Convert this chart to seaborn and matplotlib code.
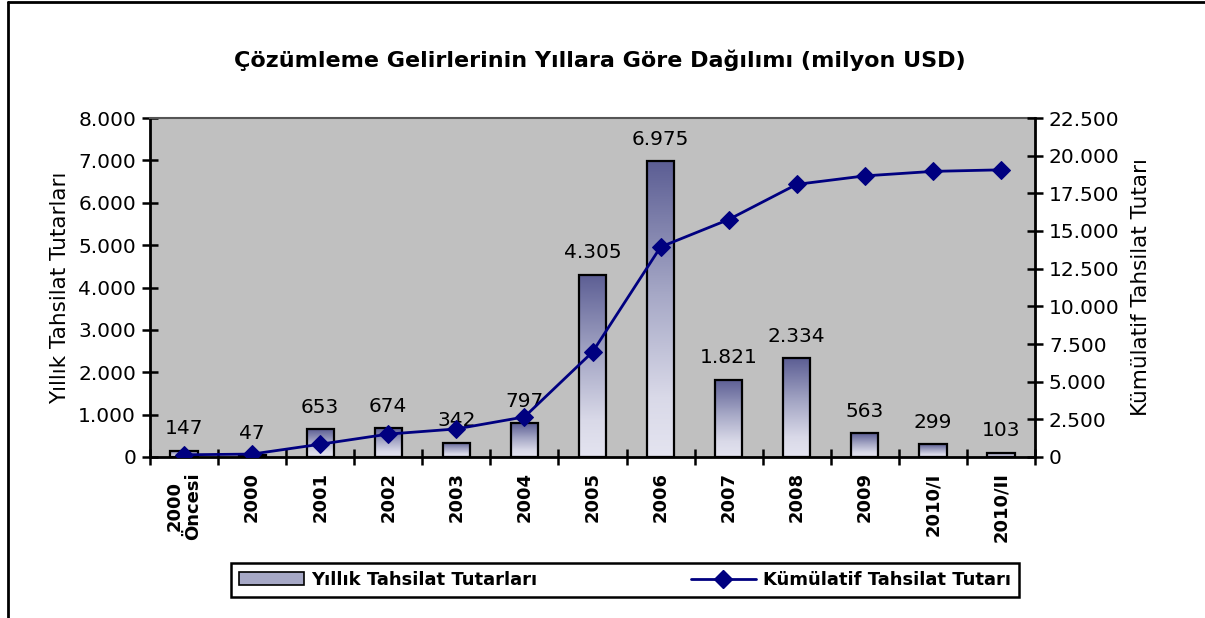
import numpy as np
import pandas as pd
import matplotlib
matplotlib.use("Agg")
import matplotlib.pyplot as plt
import seaborn as sns
from matplotlib.colors import LinearSegmentedColormap
from matplotlib.lines import Line2D
from matplotlib.patches import Patch
from matplotlib.ticker import FuncFormatter, MultipleLocator, FixedLocator

# ---- data ----
categories = ["2000\nÖncesi", "2000", "2001", "2002", "2003", "2004", "2005",
              "2006", "2007", "2008", "2009", "2010/I", "2010/II"]
yearly = [147, 47, 653, 674, 342, 797, 4305, 6975, 1821, 2334, 563, 299, 103]
cumulative = [147, 194, 847, 1521, 1863, 2660, 6965, 13940, 15761, 18095,
              18658, 18957, 19060]
title = "Çözümleme Gelirlerinin Yıllara Göre Dağılımı (milyon USD)"
left_label = "Yıllık Tahsilat Tutarları"
right_label = "Kümülatif Tahsilat Tutarı"
bar_name = "Yıllık Tahsilat Tutarları"
line_name = "Kümülatif Tahsilat Tutarı"

df = pd.DataFrame({"cat": categories, "yearly": yearly, "cum": cumulative})
df["pos"] = np.arange(len(df))

sns.set_theme(style="white")
plt.rcParams["font.family"] = ["DejaVu Sans"]
plt.rcParams.update({"text.color": "black", "axes.labelcolor": "black",
                     "xtick.color": "black", "ytick.color": "black"})

W, H = 1205, 618
fig = plt.figure(figsize=(W / 100, H / 100), dpi=100)
fig.patch.set_facecolor("white")
L, R, T, B = 150, 1035, 118, 457
ax = fig.add_axes([L / W, 1 - B / H, (R - L) / W, (B - T) / H])
ax.set_facecolor("#c0c0c0")

def dotfmt(v, _=None):
    return f"{int(round(v)):,}".replace(",", ".")

# bars
sns.barplot(data=df, x="cat", y="yearly", ax=ax, width=0.4,
            facecolor="none", edgecolor="black", linewidth=1.6, zorder=3)

cmap = LinearSegmentedColormap.from_list(
    "g", [(0.0, "#e4e4f0"), (0.2, "#d9d9e8"), (0.55, "#a6a8c6"), (1.0, "#5c5e94")])
grad = np.linspace(0, 1, 256).reshape(-1, 1)
for p in list(ax.patches):
    x0, y0, w, h = p.get_x(), p.get_y(), p.get_width(), p.get_height()
    ax.imshow(grad, extent=[x0, x0 + w, y0, y0 + h], origin="lower",
              aspect="auto", cmap=cmap, zorder=2, interpolation="bilinear")

ax.set_xlim(-0.5, len(df) - 0.5)
ax.set_ylim(0, 8000)
ax.yaxis.set_major_locator(MultipleLocator(1000))
ax.yaxis.set_major_formatter(FuncFormatter(dotfmt))

# data labels
for p, v in zip(ax.patches, yearly):
    ax.annotate(dotfmt(v), (p.get_x() + p.get_width() / 2, p.get_height()),
                xytext=(0, 9), textcoords="offset points", ha="center",
                va="bottom", fontsize=14.5, color="black", zorder=5)

# x ticks
ax.set_xticks(df["pos"])
ax.set_xticklabels(categories, rotation=90, fontsize=13, fontweight="bold",
                   va="top", ha="center", linespacing=1.05)
ax.xaxis.set_minor_locator(FixedLocator(np.arange(-0.5, len(df), 1.0)))
ax.tick_params(axis="x", which="major", length=0, pad=11)
ax.tick_params(axis="x", which="minor", direction="inout", length=12,
               width=1.8, color="black", bottom=True)
ax.tick_params(axis="y", direction="inout", length=12, width=1.8,
               color="black", labelsize=14.5, left=True, pad=4)
ax.set_xlabel("")
ax.set_ylabel(left_label, fontsize=15.5, labelpad=6)

for s in ["left", "bottom"]:
    ax.spines[s].set_color("black")
    ax.spines[s].set_linewidth(2)
ax.spines["top"].set_color("#555555")
ax.spines["top"].set_linewidth(1.5)
ax.spines["right"].set_visible(False)

# line on secondary axis
ax2 = ax.twinx()
sns.lineplot(x=df["pos"].to_numpy(), y=df["cum"].to_numpy(), ax=ax2,
             color="#000080", linewidth=2, marker="D", markersize=9,
             markeredgecolor="#000080", zorder=6)
ax2.set_ylim(0, 22500)
ax2.set_xlim(-0.5, len(df) - 0.5)
ax2.yaxis.set_major_locator(MultipleLocator(2500))
ax2.yaxis.set_major_formatter(FuncFormatter(dotfmt))
ax2.tick_params(axis="y", direction="inout", length=12, width=1.8,
                color="black", labelsize=14.5, right=True, pad=4)
ax2.set_ylabel(right_label, fontsize=15.5, labelpad=8)
for s in ["left", "top", "bottom"]:
    ax2.spines[s].set_visible(False)
ax2.spines["right"].set_color("black")
ax2.spines["right"].set_linewidth(2)
ax2.grid(False)
ax.grid(False)

# title
fig.text(0.498, 1 - 60 / H, title, ha="center", va="center",
         fontsize=16, fontweight="bold", color="black")

# legend
handles = [Patch(facecolor="#a6a8c6", edgecolor="black", linewidth=1.2),
           Line2D([0], [0], color="#000080", linewidth=2, marker="D",
                  markersize=9)]
leg = fig.legend(handles, [bar_name, line_name], ncol=2,
                 loc="center", bbox_to_anchor=(625 / W, 1 - 580 / H),
                 frameon=True, fancybox=False, shadow=False, framealpha=1,
                 prop={"weight": "bold", "size": 13}, columnspacing=8.5,
                 handlelength=3.6, borderpad=0.45, handletextpad=0.4,
                 borderaxespad=0)
leg.get_frame().set_edgecolor("black")
leg.get_frame().set_linewidth(1.8)
for t in leg.get_texts():
    t.set_color("black")

# outer frame (top and left)
fig.add_artist(Line2D([8 / W, 1], [1 - 2 / H, 1 - 2 / H], color="black",
                      linewidth=2, transform=fig.transFigure))
fig.add_artist(Line2D([8 / W, 8 / W], [0, 1 - 2 / H], color="black",
                      linewidth=2, transform=fig.transFigure))

fig.savefig("out.png", dpi=100)
